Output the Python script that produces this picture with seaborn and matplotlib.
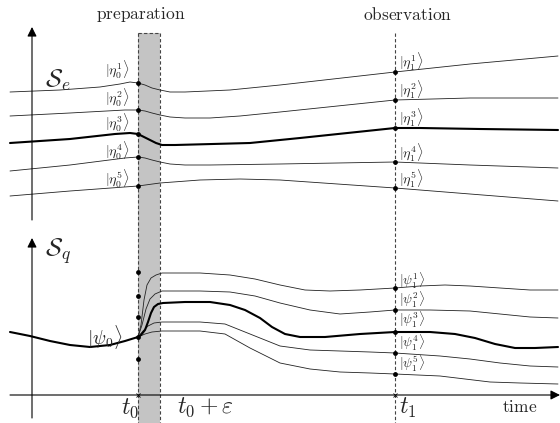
import matplotlib
matplotlib.use("Agg")
import matplotlib.pyplot as plt
import seaborn as sns

sns.set_style("white")
plt.rcParams["mathtext.fontset"] = "cm"
plt.rcParams["font.family"] = ["DejaVu Serif"]

# times (pixel space of the schematic)
t0, t0_eps, t1 = 138, 160, 395

# environment branches S_e
e1_x = [10, 60, 100, 120, 130, 138, 145, 152, 160, 170, 185, 230, 280, 395, 470, 558]
e1_y = [92, 90, 87, 84, 82, 83, 85, 88, 90, 92, 92, 90, 85, 72, 64, 56]
e2_x = [10, 70, 125, 138, 145, 152, 160, 170, 185, 210, 240, 280, 395, 470, 558]
e2_y = [116, 113, 110, 110, 111, 113, 115, 117, 118, 118, 116, 112, 100, 98, 98]
e3_x = [10, 70, 115, 130, 138, 144, 150, 156, 162, 175, 250, 300, 395, 420, 480, 558]
e3_y = [143, 139, 134, 133, 134, 137, 140, 143, 145, 145, 143, 138, 128, 128, 129, 130]
e4_x = [10, 70, 125, 138, 145, 152, 160, 170, 185, 210, 280, 395, 470, 558]
e4_y = [171, 165, 158, 157, 158, 160, 162, 164, 165, 165, 164, 162, 165, 168]
e5_x = [10, 70, 138, 160, 200, 240, 280, 395, 470, 558]
e5_y = [196, 191, 186, 183, 180, 179, 180, 188, 194, 201]

# system branches S_q
q_x = [10, 30, 50, 70, 90, 110, 125, 138, 141, 145, 148, 151, 154, 158, 163, 185, 210, 230,
       245, 260, 272, 285, 300, 325, 360, 395, 430, 455, 475, 495, 515, 535, 558]
q_y = [332, 336, 341, 345, 347, 345, 341, 337, 335, 330, 322, 313, 307, 304, 303, 302, 302, 305,
       310, 318, 327, 334, 337, 337, 334, 332, 332, 334, 338, 344, 348, 348, 347]
p1_x = [138, 141, 144, 147, 151, 156, 162, 200, 230, 255, 280, 305, 330, 360, 395, 420, 445, 470, 500, 530, 558]
p1_y = [337, 325, 300, 285, 278, 275, 273, 273, 275, 279, 285, 290, 291, 290, 288, 286, 285, 286, 288, 290, 290]
p2_x = [138, 142, 146, 150, 155, 162, 200, 230, 255, 280, 310, 340, 370, 395, 430, 470, 500, 530, 558]
p2_y = [337, 325, 309, 299, 294, 291, 291, 292, 296, 303, 310, 314, 312, 310, 310, 311, 314, 317, 318]
p4_x = [138, 143, 148, 154, 162, 200, 225, 250, 280, 310, 340, 370, 395, 440, 470, 500, 530, 558]
p4_y = [337, 331, 326, 323, 322, 322, 324, 334, 346, 350, 351, 352, 353, 356, 359, 363, 366, 367]
p5_x = [138, 145, 152, 162, 200, 225, 250, 280, 310, 340, 370, 395, 440, 465, 490, 520, 558]
p5_y = [337, 334, 332, 331, 331, 334, 348, 363, 369, 372, 373, 374, 376, 379, 382, 383, 384]

dots_e0 = [83, 110, 134, 157, 186]
dots_e1 = [72, 100, 128, 162, 188]
dots_q0 = [272, 296, 317, 337, 359]
dots_q1 = [288, 310, 332, 353, 374]

eta0_labels = [r"$|\eta_0^{%d}\rangle$" % i for i in range(1, 6)]
eta0_y = [69, 97, 122, 150, 178]
eta1_labels = [r"$|\eta_1^{%d}\rangle$" % i for i in range(1, 6)]
eta1_y = [61, 89, 117, 152, 178]
psi1_labels = [r"$|\psi_1^{%d}\rangle$" % i for i in range(1, 6)]
psi1_y = [281, 300, 320, 343, 364]

fig = plt.figure(figsize=(5.6, 4.23), dpi=100)
ax = fig.add_axes([0, 0, 1, 1])
ax.set_xlim(0, 560)
ax.set_ylim(423, 0)
ax.axis("off")

# preparation band
ax.fill_between([t0, t0_eps], 33, 423, color="#c4c4c4", lw=0, zorder=0)
dash = dict(color="#444444", lw=0.8, ls=(0, (3, 2)), zorder=1)
ax.plot([t0, t0], [33, 423], **dash)
ax.plot([t0_eps, t0_eps], [33, 423], **dash)
ax.plot([t0, t0_eps], [33, 33], **dash)
ax.plot([t1, t1], [33, 423], **dash)

# axes arrows
arr = dict(arrowstyle="-|>", lw=0.8, color="black", mutation_scale=14, shrinkA=0, shrinkB=0)
ax.annotate("", xy=(32, 27), xytext=(32, 220), arrowprops=arr)
ax.annotate("", xy=(32, 238), xytext=(32, 418), arrowprops=arr)
ax.annotate("", xy=(560, 395), xytext=(10, 395), arrowprops=arr)
ax.plot([t0, t1], [395, 395], "x", color="black", ms=3, mew=0.6)

thin = dict(color="#222222", lw=0.6, sort=False, estimator=None, ax=ax)
thick = dict(color="black", lw=1.5, sort=False, estimator=None, ax=ax)
for xs, ys in [(e1_x, e1_y), (e2_x, e2_y), (e4_x, e4_y), (e5_x, e5_y),
               (p1_x, p1_y), (p2_x, p2_y), (p4_x, p4_y), (p5_x, p5_y)]:
    sns.lineplot(x=xs, y=ys, **thin)
for xs, ys in [(e3_x, e3_y), (q_x, q_y)]:
    sns.lineplot(x=xs, y=ys, **thick)

dot = dict(color="black", s=12, linewidth=0, zorder=5, ax=ax)
sns.scatterplot(x=[t0] * 5, y=dots_e0, **dot)
sns.scatterplot(x=[t1] * 5, y=dots_e1, **dot)
sns.scatterplot(x=[t0] * 5, y=dots_q0, **dot)
sns.scatterplot(x=[t1] * 5, y=dots_q1, **dot)

for lab, y in zip(eta0_labels, eta0_y):
    ax.text(117, y, lab, fontsize=10, ha="center", va="center")
for lab, y in zip(eta1_labels, eta1_y):
    ax.text(399, y, lab, fontsize=10, ha="left", va="center")
for lab, y in zip(psi1_labels, psi1_y):
    ax.text(399, y, lab, fontsize=9.5, ha="left", va="center")

ax.text(105, 337, r"$|\psi_0\rangle$", fontsize=14, ha="center", va="center")
ax.text(45, 80, r"$\mathcal{S}_e$", fontsize=18, ha="left", va="center")
ax.text(45, 251, r"$\mathcal{S}_q$", fontsize=18, ha="left", va="center")
ax.text(141, 14, r"$\mathrm{preparation}$", fontsize=12.5, ha="center", va="center")
ax.text(408, 15, r"$\mathrm{observation}$", fontsize=12.5, ha="center", va="center")
ax.text(130, 408, r"$t_0$", fontsize=17, ha="center", va="center")
ax.text(205, 407, r"$t_0+\varepsilon$", fontsize=17, ha="center", va="center")
ax.text(408, 408, r"$t_1$", fontsize=17, ha="center", va="center")
ax.text(520, 408, r"$\mathrm{time}$", fontsize=12.5, ha="center", va="center")

fig.savefig("out.png", dpi=100)
